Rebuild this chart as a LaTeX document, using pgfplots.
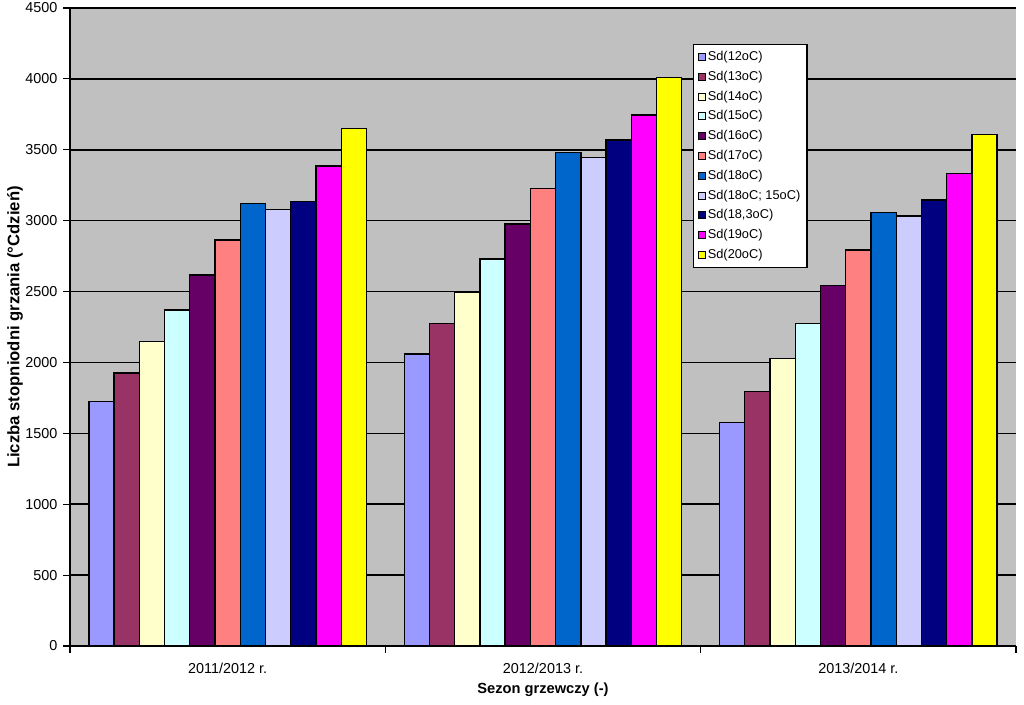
\documentclass[border=0pt]{standalone}
\usepackage{pgfplots}
\pgfplotsset{compat=1.18}
\usepackage{fontspec}
\setmainfont{Liberation Sans}
\definecolor{bgray}{HTML}{C0C0C0}
\definecolor{c12}{HTML}{9999FF}
\definecolor{c13}{HTML}{993366}
\definecolor{c14}{HTML}{FFFFCC}
\definecolor{c15}{HTML}{CCFFFF}
\definecolor{c16}{HTML}{660066}
\definecolor{c17}{HTML}{FF8080}
\definecolor{c18}{HTML}{0066CC}
\definecolor{c1815}{HTML}{CCCCFF}
\definecolor{c183}{HTML}{000080}
\definecolor{c19}{HTML}{FF00FF}
\definecolor{c20}{HTML}{FFFF00}
\begin{document}
\begin{tikzpicture}
\useasboundingbox (0,0) rectangle (768pt,528pt);
\begin{axis}[
  at={(52.5pt,43.5pt)}, anchor=south west,
  scale only axis, width=709.5pt, height=478.5pt,
  ybar=0pt, bar width=0.08,
  xmin=-0.5, xmax=2.5, ymin=0, ymax=4500,
  ytick={0,500,...,4500},
  xtick={0,1,2},
  xticklabels={2011/2012 r.,2012/2013 r.,2013/2014 r.},
  minor xtick={-0.5,0.5,1.5,2.5},
  major x tick style={draw=none},
  minor tick length=5pt,
  major tick length=5pt,
  tick align=outside,
  tick style={black, line width=0.8pt},
  ytick pos=left, xtick pos=bottom,
  axis x line*=bottom, axis y line*=left,
  axis line style={black, line width=0.8pt, -},
  ymajorgrids, grid style={black, line width=1.1pt},
  axis background/.style={fill=bgray},
  /pgf/number format/assume math mode=true,
  /pgf/number format/set thousands separator={},
  ticklabel style={font=\fontsize{10.8}{12}\selectfont},
  yticklabel style={xshift=-1pt},
  xticklabel style={yshift=-4pt},
  xlabel={Sezon grzewczy (-)},
  ylabel={Liczba stopniodni grzania (°Cdzień)},
  xlabel style={font=\bfseries\fontsize{11}{12}\selectfont, at={(axis description cs:0.5,-0.069)}, anchor=center},
  ylabel style={font=\bfseries\fontsize{12.5}{13}\selectfont, at={(axis description cs:-0.058,0.5)}, anchor=center},
  legend style={at={(rel axis cs:0.6586,0.9436)}, anchor=north west,
    draw=black, line width=0.8pt, fill=white, font=\fontsize{9.6}{11}\selectfont,
    row sep=2.4pt, inner xsep=3pt, inner ysep=3pt, cells={anchor=west}},
  legend image code/.code={\draw[#1, line width=0.5pt] (0pt,-2.6pt) rectangle (5.2pt,2.6pt);},
  every axis plot/.append style={draw=black, line width=1pt},
]
\addplot[fill=c12] coordinates {(0,1723) (1,2059) (2,1575)};
\addplot[fill=c13] coordinates {(0,1925) (1,2276) (2,1796)};
\addplot[fill=c14] coordinates {(0,2146) (1,2495) (2,2026)};
\addplot[fill=c15] coordinates {(0,2370) (1,2730) (2,2276)};
\addplot[fill=c16] coordinates {(0,2617) (1,2976) (2,2541)};
\addplot[fill=c17] coordinates {(0,2864) (1,3228) (2,2793)};
\addplot[fill=c18] coordinates {(0,3120) (1,3479) (2,3056)};
\addplot[fill=c1815] coordinates {(0,3080) (1,3447) (2,3033)};
\addplot[fill=c183] coordinates {(0,3134) (1,3569) (2,3146)};
\addplot[fill=c19] coordinates {(0,3386) (1,3745) (2,3334)};
\addplot[fill=c20] coordinates {(0,3649) (1,4011) (2,3606)};
\legend{Sd(12oC),Sd(13oC),Sd(14oC),Sd(15oC),Sd(16oC),Sd(17oC),Sd(18oC),Sd(18oC; 15oC),{Sd(18,3oC)},Sd(19oC),Sd(20oC)}
\end{axis}
\end{tikzpicture}
\end{document}
